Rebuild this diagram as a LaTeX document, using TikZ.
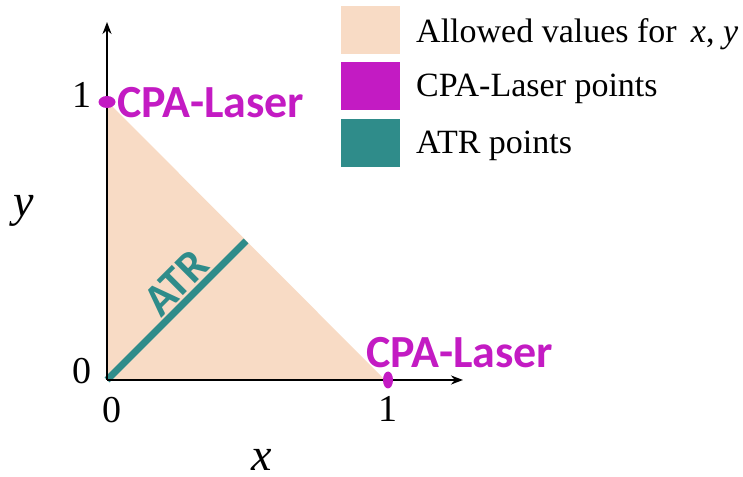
\documentclass[tikz,border=0pt]{standalone}
\usepackage{fontspec}
\setmainfont{Liberation Serif}
\newfontfamily\carlito{Carlito}
\usetikzlibrary{arrows.meta}
\definecolor{peach}{RGB}{248,219,197}
\definecolor{cpa}{RGB}{195,27,195}
\definecolor{atr}{RGB}{47,140,138}
\begin{document}
\begin{tikzpicture}[x=1pt,y=1pt,
  axis/.style={line width=2.6pt,-{Stealth[length=12pt,width=9pt]}},
  tick/.style={font=\fontsize{38}{38}\selectfont,inner sep=0pt},
  axlabel/.style={font=\fontsize{46}{46}\selectfont\itshape,inner sep=0pt},
  cpalabel/.style={font=\carlito\bfseries\fontsize{46}{46}\selectfont,text=cpa,inner sep=0pt},
  legbox/.style={minimum width=59pt,minimum height=48pt,inner sep=0pt,anchor=south west},
  legtext/.style={font=\fontsize{34}{34}\selectfont,inner sep=0pt,anchor=base west}]
\useasboundingbox (0,0) rectangle (743,476);
\coordinate (O) at (107,96);
\coordinate (Y1) at (107,375);
\coordinate (X1) at (385,96);
\coordinate (Ytip) at (107,454);
\coordinate (Xtip) at (463,96);
\coordinate (M) at (246,235);
% allowed region
\fill[peach] (O) -- (Y1) -- (X1) -- cycle;
% ATR line
\draw[atr,line width=7pt] (O) -- (M);
% axes
\draw[axis] (O) -- (Ytip);
\draw[axis] (O) -- (Xtip);
% CPA points
\fill[cpa] (107,374) ellipse [x radius=8.5pt,y radius=6pt];
\fill[cpa] (388,96) ellipse [x radius=5pt,y radius=8.5pt];
% tick labels
\node[tick] (t1y) at (82,381) {1};
\node[tick] (t0y) at (82,105) {0};
\node[tick] (t0x) at (112,66) {0};
\node[tick] (t1x) at (388,67) {1};
\node[axlabel,anchor=base] (lx) at (262,6) {x};
\node[axlabel] (ly) at (24,265) {y};
% labels
\node[cpalabel,anchor=base west] (cpa1) at (117,358) {CPA-Laser};
\node[cpalabel,anchor=base west] (cpa2) at (366,108) {CPA-Laser};
\node[font=\carlito\bfseries\fontsize{45}{45}\selectfont,text=atr,inner sep=0pt,rotate=45] (atrl) at (176,193) {ATR};
% legend
\node[legbox,fill=peach] (b1) at (341,422) {};
\node[legbox,fill=cpa] (b2) at (341,366) {};
\node[legbox,fill=atr] (b3) at (341,309) {};
\node[legtext] (l1) at (416,433) {Allowed values for\, \textit{x}, \textit{y}};
\node[legtext] (l2) at (416,379) {CPA-Laser points};
\node[legtext] (l3) at (416,322) {ATR points};
\end{tikzpicture}
\end{document}
